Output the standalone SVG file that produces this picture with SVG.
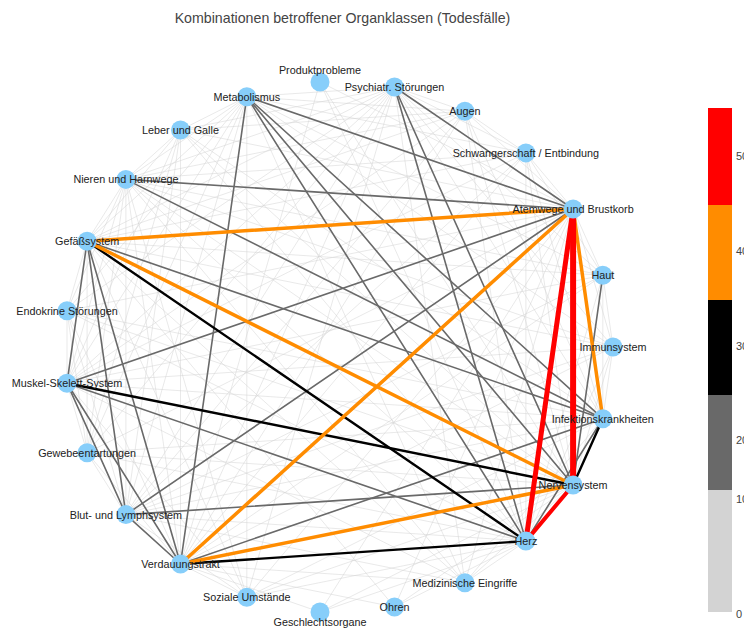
<svg xmlns="http://www.w3.org/2000/svg" width="744" height="633" viewBox="0 0 744 633">
<style>
text{font-family:"Liberation Sans",Arial,sans-serif}
.title{font-size:14.2px;fill:#444;text-anchor:middle}
.lbl{font-size:10.8px;fill:#222;text-anchor:middle;dominant-baseline:central}
.tick{font-size:11px;fill:#444;dominant-baseline:central}
.node{fill:#87cefa}
.e0{stroke:#d3d3d3;stroke-width:0.9;stroke-opacity:0.55}
.e1{stroke:#696969;stroke-width:1.6}
.e2{stroke:#000;stroke-width:2.4}
.e3{stroke:#ff8c00;stroke-width:3.5}
.e4{stroke:#ff0000}
</style>
<rect width="744" height="633" fill="#fff"/>
<text class="title" x="342.5" y="23">Kombinationen betroffener Organklassen (Todesfälle)</text>
<g id="connectors" fill="none" stroke-linecap="round">
<g class="e0">
<line x1="394.5" y1="87" x2="246.8" y2="96.7"/>
<line x1="394.5" y1="87" x2="125.9" y2="179.4"/>
<line x1="394.5" y1="87" x2="87.1" y2="241.2"/>
<line x1="394.5" y1="87" x2="67" y2="383.2"/>
<line x1="394.5" y1="87" x2="125.9" y2="514.6"/>
<line x1="394.5" y1="87" x2="180.5" y2="564"/>
<line x1="394.5" y1="87" x2="602.8" y2="418.7"/>
<line x1="246.8" y1="96.7" x2="125.9" y2="179.4"/>
<line x1="246.8" y1="96.7" x2="87.1" y2="241.2"/>
<line x1="246.8" y1="96.7" x2="67" y2="383.2"/>
<line x1="246.8" y1="96.7" x2="125.9" y2="514.6"/>
<line x1="125.9" y1="179.4" x2="87.1" y2="241.2"/>
<line x1="125.9" y1="179.4" x2="67" y2="383.2"/>
<line x1="125.9" y1="179.4" x2="125.9" y2="514.6"/>
<line x1="125.9" y1="179.4" x2="180.5" y2="564"/>
<line x1="125.9" y1="179.4" x2="525.9" y2="541.1"/>
<line x1="125.9" y1="179.4" x2="573.1" y2="485"/>
<line x1="67" y1="383.2" x2="602.8" y2="418.7"/>
<line x1="125.9" y1="514.6" x2="525.9" y2="541.1"/>
<line x1="125.9" y1="514.6" x2="602.8" y2="418.7"/>
<line x1="613" y1="347" x2="573.1" y2="209"/>
<line x1="613" y1="347" x2="394.5" y2="87"/>
<line x1="613" y1="347" x2="246.8" y2="96.7"/>
<line x1="613" y1="347" x2="125.9" y2="179.4"/>
<line x1="613" y1="347" x2="87.1" y2="241.2"/>
<line x1="613" y1="347" x2="67" y2="383.2"/>
<line x1="613" y1="347" x2="125.9" y2="514.6"/>
<line x1="613" y1="347" x2="180.5" y2="564"/>
<line x1="613" y1="347" x2="525.9" y2="541.1"/>
<line x1="613" y1="347" x2="573.1" y2="485"/>
<line x1="613" y1="347" x2="602.8" y2="418.7"/>
<line x1="602.8" y1="275.3" x2="573.1" y2="209"/>
<line x1="602.8" y1="275.3" x2="394.5" y2="87"/>
<line x1="602.8" y1="275.3" x2="246.8" y2="96.7"/>
<line x1="602.8" y1="275.3" x2="125.9" y2="179.4"/>
<line x1="602.8" y1="275.3" x2="87.1" y2="241.2"/>
<line x1="602.8" y1="275.3" x2="67" y2="383.2"/>
<line x1="602.8" y1="275.3" x2="125.9" y2="514.6"/>
<line x1="602.8" y1="275.3" x2="180.5" y2="564"/>
<line x1="602.8" y1="275.3" x2="525.9" y2="541.1"/>
<line x1="602.8" y1="275.3" x2="602.8" y2="418.7"/>
<line x1="525.9" y1="152.9" x2="573.1" y2="209"/>
<line x1="525.9" y1="152.9" x2="394.5" y2="87"/>
<line x1="525.9" y1="152.9" x2="246.8" y2="96.7"/>
<line x1="525.9" y1="152.9" x2="125.9" y2="179.4"/>
<line x1="525.9" y1="152.9" x2="87.1" y2="241.2"/>
<line x1="525.9" y1="152.9" x2="67" y2="383.2"/>
<line x1="525.9" y1="152.9" x2="125.9" y2="514.6"/>
<line x1="525.9" y1="152.9" x2="180.5" y2="564"/>
<line x1="525.9" y1="152.9" x2="525.9" y2="541.1"/>
<line x1="525.9" y1="152.9" x2="573.1" y2="485"/>
<line x1="525.9" y1="152.9" x2="602.8" y2="418.7"/>
<line x1="464.9" y1="111.2" x2="573.1" y2="209"/>
<line x1="464.9" y1="111.2" x2="394.5" y2="87"/>
<line x1="464.9" y1="111.2" x2="246.8" y2="96.7"/>
<line x1="464.9" y1="111.2" x2="125.9" y2="179.4"/>
<line x1="464.9" y1="111.2" x2="87.1" y2="241.2"/>
<line x1="464.9" y1="111.2" x2="67" y2="383.2"/>
<line x1="464.9" y1="111.2" x2="125.9" y2="514.6"/>
<line x1="464.9" y1="111.2" x2="180.5" y2="564"/>
<line x1="464.9" y1="111.2" x2="525.9" y2="541.1"/>
<line x1="464.9" y1="111.2" x2="573.1" y2="485"/>
<line x1="464.9" y1="111.2" x2="602.8" y2="418.7"/>
<line x1="180.5" y1="130" x2="573.1" y2="209"/>
<line x1="180.5" y1="130" x2="394.5" y2="87"/>
<line x1="180.5" y1="130" x2="246.8" y2="96.7"/>
<line x1="180.5" y1="130" x2="125.9" y2="179.4"/>
<line x1="180.5" y1="130" x2="87.1" y2="241.2"/>
<line x1="180.5" y1="130" x2="67" y2="383.2"/>
<line x1="180.5" y1="130" x2="125.9" y2="514.6"/>
<line x1="180.5" y1="130" x2="180.5" y2="564"/>
<line x1="180.5" y1="130" x2="525.9" y2="541.1"/>
<line x1="180.5" y1="130" x2="573.1" y2="485"/>
<line x1="180.5" y1="130" x2="602.8" y2="418.7"/>
<line x1="67" y1="310.8" x2="573.1" y2="209"/>
<line x1="67" y1="310.8" x2="394.5" y2="87"/>
<line x1="67" y1="310.8" x2="246.8" y2="96.7"/>
<line x1="67" y1="310.8" x2="125.9" y2="179.4"/>
<line x1="67" y1="310.8" x2="87.1" y2="241.2"/>
<line x1="67" y1="310.8" x2="67" y2="383.2"/>
<line x1="67" y1="310.8" x2="125.9" y2="514.6"/>
<line x1="67" y1="310.8" x2="180.5" y2="564"/>
<line x1="67" y1="310.8" x2="525.9" y2="541.1"/>
<line x1="67" y1="310.8" x2="573.1" y2="485"/>
<line x1="67" y1="310.8" x2="602.8" y2="418.7"/>
<line x1="87.1" y1="452.8" x2="573.1" y2="209"/>
<line x1="87.1" y1="452.8" x2="394.5" y2="87"/>
<line x1="87.1" y1="452.8" x2="246.8" y2="96.7"/>
<line x1="87.1" y1="452.8" x2="125.9" y2="179.4"/>
<line x1="87.1" y1="452.8" x2="87.1" y2="241.2"/>
<line x1="87.1" y1="452.8" x2="67" y2="383.2"/>
<line x1="87.1" y1="452.8" x2="125.9" y2="514.6"/>
<line x1="87.1" y1="452.8" x2="180.5" y2="564"/>
<line x1="87.1" y1="452.8" x2="525.9" y2="541.1"/>
<line x1="87.1" y1="452.8" x2="573.1" y2="485"/>
<line x1="87.1" y1="452.8" x2="602.8" y2="418.7"/>
<line x1="246.8" y1="597.3" x2="573.1" y2="209"/>
<line x1="246.8" y1="597.3" x2="394.5" y2="87"/>
<line x1="246.8" y1="597.3" x2="246.8" y2="96.7"/>
<line x1="246.8" y1="597.3" x2="125.9" y2="179.4"/>
<line x1="246.8" y1="597.3" x2="87.1" y2="241.2"/>
<line x1="246.8" y1="597.3" x2="67" y2="383.2"/>
<line x1="246.8" y1="597.3" x2="125.9" y2="514.6"/>
<line x1="246.8" y1="597.3" x2="180.5" y2="564"/>
<line x1="246.8" y1="597.3" x2="525.9" y2="541.1"/>
<line x1="246.8" y1="597.3" x2="573.1" y2="485"/>
<line x1="246.8" y1="597.3" x2="602.8" y2="418.7"/>
<line x1="464.9" y1="582.8" x2="573.1" y2="209"/>
<line x1="464.9" y1="582.8" x2="394.5" y2="87"/>
<line x1="464.9" y1="582.8" x2="246.8" y2="96.7"/>
<line x1="464.9" y1="582.8" x2="125.9" y2="179.4"/>
<line x1="464.9" y1="582.8" x2="87.1" y2="241.2"/>
<line x1="464.9" y1="582.8" x2="67" y2="383.2"/>
<line x1="464.9" y1="582.8" x2="125.9" y2="514.6"/>
<line x1="464.9" y1="582.8" x2="180.5" y2="564"/>
<line x1="464.9" y1="582.8" x2="525.9" y2="541.1"/>
<line x1="464.9" y1="582.8" x2="573.1" y2="485"/>
<line x1="464.9" y1="582.8" x2="602.8" y2="418.7"/>
<line x1="320" y1="82" x2="573.1" y2="209"/>
<line x1="320" y1="82" x2="573.1" y2="485"/>
<line x1="320" y1="82" x2="525.9" y2="541.1"/>
<line x1="320" y1="82" x2="180.5" y2="564"/>
<line x1="320" y1="612" x2="573.1" y2="209"/>
<line x1="320" y1="612" x2="573.1" y2="485"/>
<line x1="320" y1="612" x2="525.9" y2="541.1"/>
<line x1="320" y1="612" x2="180.5" y2="564"/>
<line x1="394.5" y1="607" x2="573.1" y2="209"/>
<line x1="394.5" y1="607" x2="573.1" y2="485"/>
<line x1="394.5" y1="607" x2="525.9" y2="541.1"/>
<line x1="394.5" y1="607" x2="180.5" y2="564"/>
<line x1="394.5" y1="607" x2="87.1" y2="241.2"/>
<line x1="613" y1="347" x2="602.8" y2="275.3"/>
<line x1="525.9" y1="152.9" x2="464.9" y2="111.2"/>
<line x1="180.5" y1="130" x2="87.1" y2="452.8"/>
<line x1="67" y1="310.8" x2="87.1" y2="452.8"/>
<line x1="464.9" y1="111.2" x2="180.5" y2="130"/>
<line x1="602.8" y1="275.3" x2="525.9" y2="152.9"/>
</g>
<g class="e1">
<line x1="246.8" y1="96.7" x2="573.1" y2="209"/>
<line x1="246.8" y1="96.7" x2="180.5" y2="564"/>
<line x1="246.8" y1="96.7" x2="525.9" y2="541.1"/>
<line x1="246.8" y1="96.7" x2="573.1" y2="485"/>
<line x1="246.8" y1="96.7" x2="602.8" y2="418.7"/>
<line x1="394.5" y1="87" x2="573.1" y2="209"/>
<line x1="394.5" y1="87" x2="573.1" y2="485"/>
<line x1="394.5" y1="87" x2="525.9" y2="541.1"/>
<line x1="125.9" y1="179.4" x2="573.1" y2="209"/>
<line x1="125.9" y1="179.4" x2="602.8" y2="418.7"/>
<line x1="87.1" y1="241.2" x2="67" y2="383.2"/>
<line x1="87.1" y1="241.2" x2="125.9" y2="514.6"/>
<line x1="87.1" y1="241.2" x2="180.5" y2="564"/>
<line x1="87.1" y1="241.2" x2="602.8" y2="418.7"/>
<line x1="67" y1="383.2" x2="573.1" y2="209"/>
<line x1="67" y1="383.2" x2="525.9" y2="541.1"/>
<line x1="67" y1="383.2" x2="180.5" y2="564"/>
<line x1="67" y1="383.2" x2="125.9" y2="514.6"/>
<line x1="125.9" y1="514.6" x2="573.1" y2="209"/>
<line x1="125.9" y1="514.6" x2="573.1" y2="485"/>
<line x1="125.9" y1="514.6" x2="180.5" y2="564"/>
<line x1="180.5" y1="564" x2="602.8" y2="418.7"/>
<line x1="602.8" y1="275.3" x2="573.1" y2="485"/>
<line x1="602.8" y1="418.7" x2="525.9" y2="541.1"/>
</g>
<g class="e2">
<line x1="87.1" y1="241.2" x2="525.9" y2="541.1"/>
<line x1="67" y1="383.2" x2="573.1" y2="485"/>
<line x1="180.5" y1="564" x2="525.9" y2="541.1"/>
<line x1="602.8" y1="418.7" x2="573.1" y2="485"/>
</g>
<g class="e3">
<line x1="87.1" y1="241.2" x2="573.1" y2="209"/>
<line x1="87.1" y1="241.2" x2="573.1" y2="485"/>
<line x1="573.1" y1="209" x2="180.5" y2="564"/>
<line x1="573.1" y1="209" x2="602.8" y2="418.7"/>
<line x1="180.5" y1="564" x2="573.1" y2="485"/>
</g>
<g class="e4">
<line x1="573.1" y1="209" x2="573.1" y2="485" stroke-width="6"/>
<line x1="573.1" y1="209" x2="525.9" y2="541.1" stroke-width="5"/>
<line x1="573.1" y1="485" x2="525.9" y2="541.1" stroke-width="4"/>
</g>
</g>
<g id="nodes">
<g id="n-immunsystem"><circle class="node" cx="613" cy="347" r="9.5"/><text class="lbl" x="613" y="347">Immunsystem</text></g>
<g id="n-haut"><circle class="node" cx="602.8" cy="275.3" r="9.5"/><text class="lbl" x="602.8" y="275.3">Haut</text></g>
<g id="n-atemwege"><circle class="node" cx="573.1" cy="209" r="9.5"/><text class="lbl" x="573.1" y="209">Atemwege und Brustkorb</text></g>
<g id="n-schwangerschaft"><circle class="node" cx="525.9" cy="152.9" r="9.5"/><text class="lbl" x="525.9" y="152.9">Schwangerschaft / Entbindung</text></g>
<g id="n-augen"><circle class="node" cx="464.9" cy="111.2" r="9.5"/><text class="lbl" x="464.9" y="111.2">Augen</text></g>
<g id="n-psychiatr"><circle class="node" cx="394.5" cy="87" r="9.5"/><text class="lbl" x="394.5" y="87">Psychiatr. Störungen</text></g>
<g id="n-produktprobleme"><circle class="node" cx="320" cy="82" r="9.5"/><text class="lbl" x="320" y="70">Produktprobleme</text></g>
<g id="n-metabolismus"><circle class="node" cx="246.8" cy="96.7" r="9.5"/><text class="lbl" x="246.8" y="96.7">Metabolismus</text></g>
<g id="n-leber"><circle class="node" cx="180.5" cy="130" r="9.5"/><text class="lbl" x="180.5" y="130">Leber und Galle</text></g>
<g id="n-nieren"><circle class="node" cx="125.9" cy="179.4" r="9.5"/><text class="lbl" x="125.9" y="179.4">Nieren und Harnwege</text></g>
<g id="n-gefaess"><circle class="node" cx="87.1" cy="241.2" r="9.5"/><text class="lbl" x="87.1" y="241.2">Gefäßsystem</text></g>
<g id="n-endokrine"><circle class="node" cx="67" cy="310.8" r="9.5"/><text class="lbl" x="67" y="310.8">Endokrine Störungen</text></g>
<g id="n-muskel"><circle class="node" cx="67" cy="383.2" r="9.5"/><text class="lbl" x="67" y="383.2">Muskel-Skelett-System</text></g>
<g id="n-gewebe"><circle class="node" cx="87.1" cy="452.8" r="9.5"/><text class="lbl" x="87.1" y="452.8">Gewebeentartungen</text></g>
<g id="n-blut"><circle class="node" cx="125.9" cy="514.6" r="9.5"/><text class="lbl" x="125.9" y="514.6">Blut- und Lymphsystem</text></g>
<g id="n-verdauung"><circle class="node" cx="180.5" cy="564" r="9.5"/><text class="lbl" x="180.5" y="564">Verdauungstrakt</text></g>
<g id="n-soziale"><circle class="node" cx="246.8" cy="597.3" r="9.5"/><text class="lbl" x="246.8" y="597.3">Soziale Umstände</text></g>
<g id="n-geschlecht"><circle class="node" cx="320" cy="612" r="9.5"/><text class="lbl" x="320" y="622">Geschlechtsorgane</text></g>
<g id="n-ohren"><circle class="node" cx="394.5" cy="607" r="9.5"/><text class="lbl" x="394.5" y="607">Ohren</text></g>
<g id="n-medizin"><circle class="node" cx="464.9" cy="582.8" r="9.5"/><text class="lbl" x="464.9" y="582.8">Medizinische Eingriffe</text></g>
<g id="n-herz"><circle class="node" cx="525.9" cy="541.1" r="9.5"/><text class="lbl" x="525.9" y="541.1">Herz</text></g>
<g id="n-nerven"><circle class="node" cx="573.1" cy="485" r="9.5"/><text class="lbl" x="573.1" y="485">Nervensystem</text></g>
<g id="n-infektion"><circle class="node" cx="602.8" cy="418.7" r="9.5"/><text class="lbl" x="602.8" y="418.7">Infektionskrankheiten</text></g>
</g>
<g id="colorbar">
<rect x="708" y="108" width="24" height="97" fill="#ff0000"/>
<rect x="708" y="205" width="24" height="95" fill="#ff8c00"/>
<rect x="708" y="300" width="24" height="95" fill="#000000"/>
<rect x="708" y="395" width="24" height="95" fill="#696969"/>
<rect x="708" y="490" width="24" height="122" fill="#d3d3d3"/>
<text class="tick" x="736" y="156">50</text>
<text class="tick" x="736" y="251">40</text>
<text class="tick" x="736" y="346">30</text>
<text class="tick" x="736" y="440">20</text>
<text class="tick" x="736" y="499">10</text>
<text class="tick" x="736" y="614">0</text>
</g>
</svg>
